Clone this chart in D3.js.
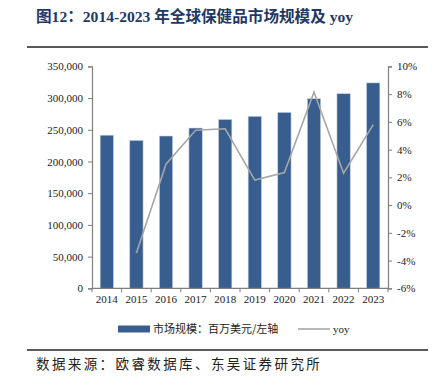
<!DOCTYPE html>
<html><head><meta charset="utf-8">
<script src="https://cdn.jsdelivr.net/npm/d3@7"></script>
<style>body{margin:0;background:#fff}svg{display:block}</style>
</head><body>
<svg id="c" width="436" height="387"></svg>
<script>
const years = ["2014","2015","2016","2017","2018","2019","2020","2021","2022","2023"];
const marketSize = [241500, 233300, 240200, 252800, 266300, 271300, 277500, 299000, 307000, 324000];
const yoy = [null, -3.45, 2.95, 5.4, 5.5, 1.8, 2.35, 8.15, 2.3, 5.8];
const leftTicks = [0, 50000, 100000, 150000, 200000, 250000, 300000, 350000];
const rightTicks = [-6, -4, -2, 0, 2, 4, 6, 8, 10];

const svg = d3.select("#c");
const L = 92, R = 388, T = 66.4, B = 288.3;
const serif = "'Liberation Serif','Times New Roman',serif";
const cjk = "'Noto Sans CJK SC',sans-serif";

// title
svg.append("text").attr("x", 36).attr("y", 22)
  .attr("font-family", serif + ",'Noto Sans CJK SC'").attr("font-weight", "bold")
  .attr("font-size", 15.6).attr("fill", "#1F3864")
  .text("图12：2014-2023 年全球保健品市场规模及 yoy");
svg.append("line").attr("x1", 27).attr("x2", 428).attr("y1", 47).attr("y2", 47)
  .attr("stroke", "#222").attr("stroke-width", 1.5);

const x = d3.scaleBand().domain(years).range([L, R]).paddingInner(0.55).paddingOuter(0.275);
const xb = d3.scaleBand().domain(years).range([L, R]);
const yL = d3.scaleLinear().domain([0, 350000]).range([B, T]);
const yR = d3.scaleLinear().domain([-6, 10]).range([B, T]);

// bars
svg.append("g").selectAll("rect").data(years).join("rect")
  .attr("x", d => x(d)).attr("width", x.bandwidth())
  .attr("y", (d, i) => yL(marketSize[i])).attr("height", (d, i) => B - yL(marketSize[i]))
  .attr("fill", "#385D8F").attr("stroke", "#C9D3E3").attr("stroke-width", 0.6);

// yoy line
const line = d3.line().defined(d => d.v !== null)
  .x(d => xb(d.y) + xb.bandwidth() / 2).y(d => yR(d.v));
svg.append("path").datum(years.map((y, i) => ({y, v: yoy[i]})))
  .attr("d", line).attr("fill", "none").attr("stroke", "#A6A6A6").attr("stroke-width", 1.6);

// axes
const axisColor = "#7F7F7F";
const gL = svg.append("g").attr("transform", `translate(${L},0)`)
  .call(d3.axisLeft(yL).tickValues(leftTicks).tickSize(4).tickPadding(5).tickFormat(d3.format(",")));
const gR = svg.append("g").attr("transform", `translate(${R},0)`)
  .call(d3.axisRight(yR).tickValues(rightTicks).tickSize(4).tickPadding(5).tickFormat(d => d + "%"));
const gX = svg.append("g").attr("transform", `translate(0,${B})`)
  .call(d3.axisBottom(xb).tickSize(0).tickPadding(7));
// x ticks at band boundaries
svg.append("g").selectAll("line").data(d3.range(years.length + 1)).join("line")
  .attr("x1", i => L + i * xb.step()).attr("x2", i => L + i * xb.step())
  .attr("y1", B).attr("y2", B + 4).attr("stroke", axisColor);
[gL, gR, gX].forEach(g => {
  g.selectAll("path.domain").attr("stroke", axisColor).attr("stroke-width", 1.2);
  g.selectAll(".tick line").attr("stroke", axisColor);
  g.selectAll("text").attr("font-family", serif).attr("font-size", 11).attr("fill", "#222");
});
gX.selectAll("path.domain").attr("d", `M${L},0H${R}`);

// legend
const ly = 329;
svg.append("rect").attr("x", 118).attr("y", ly - 3.5).attr("width", 32).attr("height", 7).attr("fill", "#385D8F");
svg.append("text").attr("x", 153).attr("y", ly + 4).attr("font-family", cjk).attr("font-size", 11)
  .attr("fill", "#222").text("市场规模：百万美元/左轴");
svg.append("line").attr("x1", 298).attr("x2", 330).attr("y1", ly).attr("y2", ly)
  .attr("stroke", "#A6A6A6").attr("stroke-width", 1.6);
svg.append("text").attr("x", 333).attr("y", ly + 4).attr("font-family", serif).attr("font-size", 11)
  .attr("fill", "#222").text("yoy");

// source
svg.append("line").attr("x1", 27).attr("x2", 428).attr("y1", 350).attr("y2", 350)
  .attr("stroke", "#222").attr("stroke-width", 1.5);
svg.append("text").attr("x", 36).attr("y", 369).attr("font-family", cjk).attr("font-size", 13.5)
  .attr("letter-spacing", 2.4).attr("fill", "#222").text("数据来源：欧睿数据库、东吴证券研究所");
</script>
</body></html>
